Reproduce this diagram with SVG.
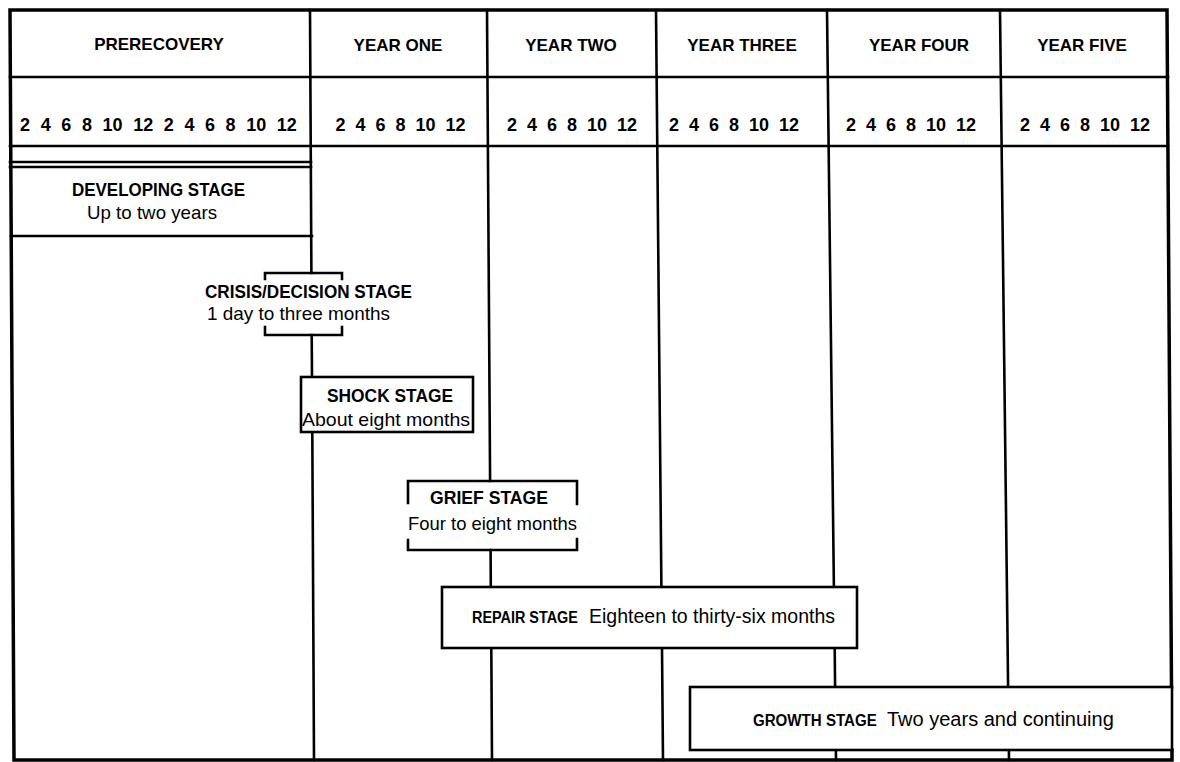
<svg xmlns="http://www.w3.org/2000/svg" width="1180" height="762" viewBox="0 0 1180 762">
<style>
.ln{fill:none;stroke:#000;stroke-width:2.6;stroke-linecap:square}
.fr{fill:none;stroke:#000;stroke-width:3.5;stroke-linecap:square}
.box{fill:#fff;stroke:#000;stroke-width:2.6}
.hd{font-family:"Liberation Sans",Arial,sans-serif;font-weight:bold;font-size:17px;fill:#000;text-anchor:middle}
.num{font-family:"Liberation Sans",Arial,sans-serif;font-weight:bold;font-size:18px;fill:#000;text-anchor:middle;word-spacing:5px}
.t{font-family:"Liberation Sans",Arial,sans-serif;font-weight:bold;font-size:18px;fill:#000}
.s{font-family:"Liberation Sans",Arial,sans-serif;font-size:19px;fill:#000}
</style>
<rect width="1180" height="762" fill="#fff"/>
<g id="grid">
<path class="fr" d="M10,10 H1167 M10,10 L14,760 M14,760 H1172 M1167,10 L1171.5,687 M1172,750 V760"/>
<path class="ln" d="M10,77 H1168 M10,146 H1168"/>
</g>
<g id="header">
<text class="hd" x="159" y="50">PRERECOVERY</text>
<text class="hd" x="398" y="51">YEAR ONE</text>
<text class="hd" x="571" y="51">YEAR TWO</text>
<text class="hd" x="742" y="51">YEAR THREE</text>
<text class="hd" x="919" y="51">YEAR FOUR</text>
<text class="hd" x="1082" y="51">YEAR FIVE</text>
<text class="num" x="158.5" y="131" style="word-spacing:5.6px">2 4 6 8 10 12 2 4 6 8 10 12</text>
<text class="num" x="400.5" y="131">2 4 6 8 10 12</text>
<text class="num" x="572" y="131">2 4 6 8 10 12</text>
<text class="num" x="734" y="131">2 4 6 8 10 12</text>
<text class="num" x="911" y="131">2 4 6 8 10 12</text>
<text class="num" x="1085" y="131">2 4 6 8 10 12</text>
</g>
<g id="connectors">
<path class="ln" d="M310,10 L311.4,273 M311.7,335 L312,377 M312.3,432 L314,760"/>
<path class="ln" d="M487,10 L490.1,481 M490.6,550 L490.8,587 M491.3,648 L492,760"/>
<path class="ln" d="M656,10 L661.4,587 M662,648 L663,760"/>
<path class="ln" d="M827,10 L833.9,587 M834.7,648 L835.1,687 M835.9,750 L836,760"/>
<path class="ln" d="M1000,10 L1008.1,687 M1008.9,750 L1009,760"/>
</g>
<g id="developing">
<path class="ln" d="M10,162 H311 M10,167 H311 M11,236 H312"/>
<text class="t" x="72" y="196" textLength="173" lengthAdjust="spacingAndGlyphs">DEVELOPING STAGE</text>
<text class="s" x="87" y="219" textLength="130" lengthAdjust="spacingAndGlyphs">Up to two years</text>
</g>
<g id="crisis">
<path class="ln" d="M265,279 V273 H342 V279 M265,327 V335 H342 V327"/>
<text class="t" x="205" y="298" textLength="207" lengthAdjust="spacingAndGlyphs">CRISIS/DECISION STAGE</text>
<text class="s" x="207" y="320" textLength="183" lengthAdjust="spacingAndGlyphs">1 day to three months</text>
</g>
<g id="shock">
<rect class="box" x="301" y="377" width="172" height="55"/>
<text class="t" x="327" y="402" textLength="126" lengthAdjust="spacingAndGlyphs">SHOCK STAGE</text>
<text class="s" x="302" y="426" textLength="168" lengthAdjust="spacingAndGlyphs">About eight months</text>
</g>
<g id="grief">
<path class="ln" d="M408,503 V481 H577 V504 M408,540 V550 H577 V539"/>
<text class="t" x="430" y="504" textLength="118" lengthAdjust="spacingAndGlyphs">GRIEF STAGE</text>
<text class="s" x="408" y="530" textLength="169" lengthAdjust="spacingAndGlyphs">Four to eight months</text>
</g>
<g id="repair">
<rect class="box" x="442" y="587" width="415" height="61"/>
<text class="t" transform="translate(472,623) scale(0.847,1)" style="font-size:17px">REPAIR STAGE</text>
<text class="s" x="589" y="623" style="font-size:19.5px">Eighteen to thirty-six months</text>
</g>
<g id="growth">
<rect class="box" x="690" y="687" width="482" height="63"/>
<text class="t" transform="translate(753,726) scale(0.888,1)" style="font-size:17px">GROWTH STAGE</text>
<text class="s" x="887" y="726" style="font-size:20px">Two years and continuing</text>
</g>
</svg>
